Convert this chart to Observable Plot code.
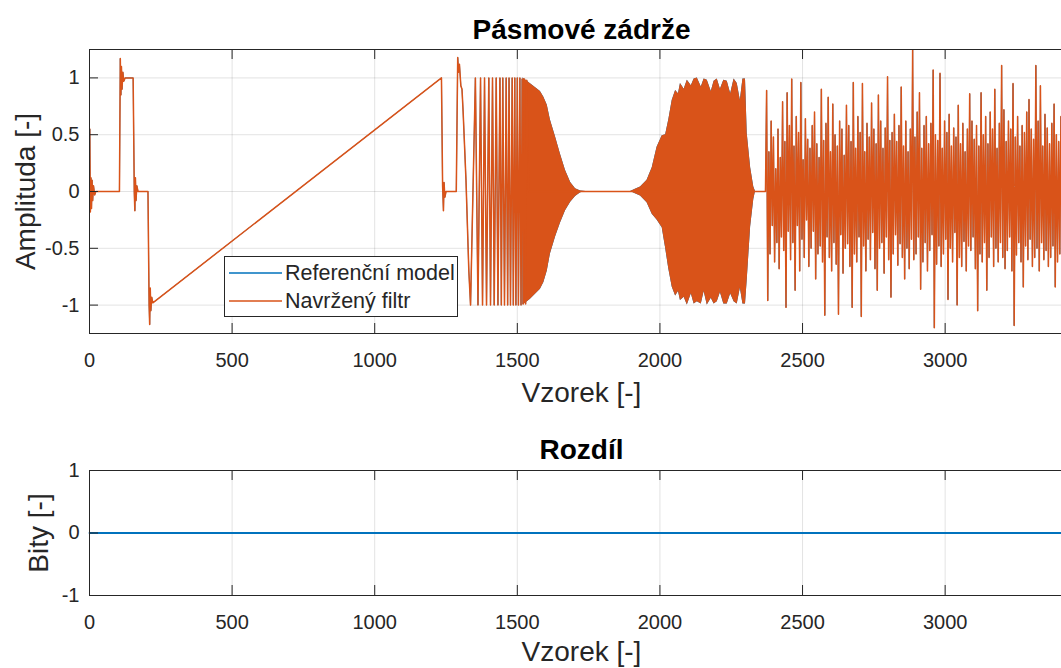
<!DOCTYPE html>
<html><head><meta charset="utf-8">
<script src="https://cdn.jsdelivr.net/npm/d3@7"></script>
<script src="https://cdn.jsdelivr.net/npm/@observablehq/plot@0.6"></script>
<style>
html,body{margin:0;padding:0;overflow:hidden;background:#fff;}
#wrap{position:relative;width:1061px;height:668px;overflow:hidden;font-family:"Liberation Sans",Arial,sans-serif;}
#top,#bot{position:absolute;left:0;width:1074px;}
#top svg,#bot svg{max-width:none !important;}
#top{top:0}
#bot{top:420px}
#legend{position:absolute;left:224px;top:256px;width:234px;height:61px;box-sizing:border-box;border:1px solid #262626;background:#fff;font-size:21.5px;color:#262626;}
.row{position:absolute;left:4px;height:24px;display:flex;align-items:center;white-space:nowrap;}
.row svg{margin-right:3px}
</style></head>
<body><div id="wrap"><div id="top"></div><div id="bot"></div>
<div id="legend">
<div class="row" style="top:4px"><svg width="53" height="4"><line x1="0" x2="53" y1="2" y2="2" stroke="#0072BD" stroke-width="1.3"/></svg><span>Referenční model</span></div>
<div class="row" style="top:32px"><svg width="53" height="4"><line x1="0" x2="53" y1="2" y2="2" stroke="#D95319" stroke-width="1.3"/></svg><span>Navržený filtr</span></div>
</div></div>
<script>
// ---------- data ----------
const xTicks = [0, 500, 1000, 1500, 2000, 2500, 3000];
const yTicksTop = [-1, -0.5, 0, 0.5, 1];
const yTicksBot = [-1, 0, 1];
const seriesNames = ["Referenční model", "Navržený filtr"];

// deterministic part (steps, ramp, transients)
const sigX = [0, 1, 3, 5, 7, 9, 11, 14, 18, 22, 105, 108, 110, 112, 114, 117, 120, 125, 153, 157, 159, 161, 163, 166, 170, 205, 209, 211, 213, 215, 218, 222, 1234, 1238, 1241, 1243, 1246, 1250, 1286, 1291, 1294, 1297, 1302, 1306, 1310, 1320, 1330];
const sigY = [0, 0.55, -0.18, 0.12, -0.15, 0.10, -0.08, 0.05, -0.03, 0, 0, 1.17, 0.85, 1.10, 0.90, 1.05, 0.97, 1.0, 1.0, 0, -0.17, 0.12, -0.08, 0.05, 0, 0, -1.0, -1.17, -0.85, -1.05, -0.93, -0.98, 1.0, 0.05, -0.17, 0.08, -0.05, 0, 0, 1.18, 1.05, 1.12, 0.93, 0.90, 0.70, 0.10, -0.70];

// sparse chirp peaks
const chirpX = [1336, 1353, 1362, 1371, 1378, 1385, 1392, 1400, 1406, 1413, 1419, 1426, 1432, 1439, 1444, 1449, 1455, 1461, 1466, 1471, 1476, 1482, 1486, 1491, 1495, 1500, 1504, 1509, 1513, 1517, 1521, 1525, 1529, 1533];
const chirpY = [-1.0, 1.0, -1.0, 1.0, -1.0, 1.0, -1.0, 1.0, -1.0, 1.0, -1.0, 1.0, -1.0, 1.0, -1.0, 1.0, -1.0, 1.0, -1.0, 1.0, -1.0, 1.0, -1.0, 1.0, -1.0, 1.0, -1.0, 1.0, -1.0, 0.99, -0.99, 0.99, -0.99, 0.98];

// zero stretches between bursts
const gapX = [1540, 1745, 1895, 2337, 2370];
const gapY = [0, 0, 0, 0, 0];

// dense chirp envelopes
const band1X = [1520, 1545, 1581, 1593, 1605, 1616, 1634, 1651, 1669, 1687, 1704, 1722, 1740];
const band1Hi = [1.0, 0.95, 0.88, 0.83, 0.76, 0.63, 0.48, 0.33, 0.185, 0.08, 0.024, 0.005, 0];
const band1Lo = [-1.0, -0.95, -0.86, -0.80, -0.70, -0.55, -0.40, -0.28, -0.17, -0.094, -0.044, -0.01, 0];
const band2X = [1897, 1914, 1932, 1955, 1973, 1990, 2008, 2020, 2031, 2043, 2055, 2065, 2072, 2085, 2096, 2110, 2120, 2131, 2145, 2155, 2166, 2180, 2190, 2201, 2212, 2224, 2236, 2248, 2260, 2271, 2282, 2291, 2300, 2306, 2318, 2329, 2335];
const band2Hi = [0, 0.02, 0.04, 0.10, 0.21, 0.39, 0.49, 0.50, 0.63, 0.80, 0.89, 0.86, 0.95, 0.90, 0.98, 0.93, 0.99, 1.0, 0.92, 0.99, 0.98, 0.88, 0.97, 0.99, 0.90, 0.98, 0.97, 0.86, 0.99, 0.95, 0.80, 0.99, 0.99, 0.51, 0.21, 0.04, 0];
const band2Lo = [0, -0.02, -0.04, -0.10, -0.20, -0.25, -0.32, -0.50, -0.68, -0.84, -0.92, -0.88, -0.96, -0.93, -1.0, -0.90, -0.99, -0.97, -0.99, -0.88, -1.0, -0.94, -0.99, -0.97, -0.89, -0.99, -0.99, -0.90, -0.97, -0.99, -0.85, -0.99, -0.99, -0.78, -0.31, -0.07, 0];

// noise section: samples from 2374, every 4th sample
const noiseStart = 2374, noiseStep = 4;
const noiseY = [
0.89, -0.96, 0.35, -0.55, 0.62, -0.30, 0.48, -0.62, 0.20, -0.45,
0.55, -0.68, 0.30, -0.40, 0.79, -0.52, 0.44, -1.02, 0.87, -0.35,
0.58, -0.60, 0.99, -0.45, 0.40, -0.87, 0.66, -0.30, 0.52, -0.70,
0.96, -0.42, 0.28, -0.58, 0.64, -0.25, 0.46, -0.66, 0.38, -0.50,
0.58, -0.35, 0.70, -0.77, 0.42, -0.55, 0.30, -0.48, 0.90, -0.62,
0.45, -1.09, 0.60, -0.40, 0.83, -0.58, 0.35, -0.70, 0.77, -0.45,
0.50, -0.64, 0.40, -1.08, 0.62, -0.38, 0.55, -0.72, 0.32, -0.50,
0.76, -0.46, 0.58, -0.66, 0.44, -1.02, 0.96, -0.55, 0.38, -0.62,
0.66, -0.40, 0.52, -1.10, 0.95, -0.48, 0.35, -0.70, 0.60, -0.42,
0.48, -0.60, 0.78, -0.36, 0.55, -0.68, 0.42, -0.87, 0.85, -0.50,
0.62, -0.45, 0.38, -0.72, 0.56, -0.40, 1.01, -0.60, 0.45, -0.93,
0.52, -0.55, 0.68, -0.38, 0.44, -0.65, 0.58, -0.46, 0.92, -0.58,
0.40, -0.77, 0.62, -0.50, 0.35, -0.68, 0.55, -0.42, 1.25, -0.60,
0.48, -0.55, 0.70, -0.40, 0.87, -0.86, 0.38, -0.62, 0.58, -0.45,
0.66, -0.70, 0.42, -0.52, 0.60, -0.38, 1.07, -1.20, 0.50, -0.64,
0.45, -0.48, 1.04, -0.66, 0.38, -0.55, 0.62, -0.42, 0.52, -0.95,
0.68, -0.50, 0.40, -0.62, 0.56, -0.36, 0.48, -1.00, 0.76, -0.58,
0.42, -0.66, 0.60, -0.44, 0.35, -0.70, 0.55, -0.48, 0.86, -0.52,
0.62, -0.40, 0.46, -0.68, 0.58, -1.05, 0.40, -0.55, 0.87, -0.62,
0.50, -0.45, 0.66, -0.87, 0.42, -0.58, 0.70, -0.40, 0.55, -0.66,
0.90, -0.50, 0.38, -0.62, 0.60, -0.45, 1.11, -0.58, 0.72, -0.68,
0.44, -0.52, 0.62, -0.40, 0.55, -0.70, 0.95, -1.18, 0.48, -0.56,
0.66, -0.45, 0.40, -0.62, 0.58, -0.84, 0.52, -0.48, 0.70, -0.60,
0.81, -0.42, 0.55, -0.66, 0.46, -0.58, 1.11, -0.50, 0.62, -0.70,
0.93, -0.45, 0.40, -0.60, 0.68, -0.52, 0.56, -0.66, 0.42, -0.58,
0.60, -0.48, 0.77, -0.84, 0.50, -0.62, 0.44, -0.55, 0.66, -0.46,
0.58, -0.68, 0.40, -0.52, 0.62, -0.44, 0.55, -0.60, 0.48, -0.56
];

// difference (model - filter)
const diffX = [0, 3450];
const diffY = [0, 0];

const xDomain = [0, 3450];
const yDomainTop = [-1.25, 1.25];
const yDomainBot = [-1, 1];

// ---------- build tables ----------
const lineData = [];
sigX.forEach((x, i) => lineData.push({x, y: sigY[i]}));
chirpX.forEach((x, i) => lineData.push({x, y: chirpY[i]}));
gapX.forEach((x, i) => lineData.push({x, y: gapY[i]}));
noiseY.forEach((y, i) => lineData.push({x: noiseStart + i * noiseStep, y}));
const band1 = band1X.map((x, i) => ({x, hi: band1Hi[i], lo: band1Lo[i]}));
const band2 = band2X.map((x, i) => ({x, hi: band2Hi[i], lo: band2Lo[i]}));
const diff = diffX.map((x, i) => ({x, y: diffY[i]}));

const BLUE = "#0072BD", ORANGE = "#D95319", AX = "#262626";
const FONT = "Liberation Sans, Arial, sans-serif";
const W = 1074, ML = 89, MR = 1;
const plotW = W - ML - MR;

function gridMarks(yTicks) {
  return [
    Plot.gridX(xTicks, {stroke: AX, strokeOpacity: 0.13}),
    Plot.gridY(yTicks, {stroke: AX, strokeOpacity: 0.13}),
  ];
}
// inward ticks (MATLAB style), lengths converted from pixels to data units
function axisMarks(yTicks, yDomain, frameH) {
  const ySpan = yDomain[1] - yDomain[0];
  const dy = 10 * ySpan / frameH;
  const dx = 9 * (xDomain[1] - xDomain[0]) / plotW;
  return [
    Plot.ruleX(xTicks, {x: d => d, y1: yDomain[0], y2: yDomain[0] + dy, stroke: AX}),
    Plot.ruleX(xTicks, {x: d => d, y1: yDomain[1], y2: yDomain[1] - dy, stroke: AX}),
    Plot.ruleY(yTicks, {y: d => d, x1: xDomain[0], x2: xDomain[0] + dx, stroke: AX}),
    Plot.frame({stroke: AX}),
    Plot.axisX(xTicks, {tickSize: 0, tickPadding: 19, fontSize: 20, fill: AX, tickFormat: d => String(d), label: null}),
    Plot.axisY(yTicks, {tickSize: 0, tickPadding: 10, fontSize: 20, fill: AX, tickFormat: d => String(d), label: null}),
  ];
}
const txt = {text: d => d, lineAnchor: "middle", textAnchor: "middle"};

// ---------- top chart ----------
const topH = 420, topMT = 49, topMB = 87;
const topFrameH = topH - topMT - topMB;
const topPlot = Plot.plot({
  width: W, height: topH,
  marginLeft: ML, marginRight: MR, marginTop: topMT, marginBottom: topMB,
  style: {fontFamily: FONT, background: "transparent", overflow: "visible", maxWidth: "none"},
  x: {domain: xDomain, axis: null},
  y: {domain: yDomainTop, axis: null},
  marks: [
    ...gridMarks(yTicksTop),
    // reference model (beneath the filter output, identical values)
    Plot.areaY(band1, {x: "x", y1: "lo", y2: "hi", fill: BLUE, clip: true}),
    Plot.areaY(band2, {x: "x", y1: "lo", y2: "hi", fill: BLUE, clip: true}),
    Plot.line(lineData, {x: "x", y: "y", stroke: BLUE, strokeWidth: 0.8, clip: true}),
    // designed filter
    Plot.areaY(band1, {x: "x", y1: "lo", y2: "hi", fill: ORANGE, clip: true}),
    Plot.areaY(band2, {x: "x", y1: "lo", y2: "hi", fill: ORANGE, clip: true}),
    Plot.line(lineData, {x: "x", y: "y", stroke: ORANGE, strokeWidth: 1.5, clip: true}),
    ...axisMarks(yTicksTop, yDomainTop, topFrameH),
    Plot.text(["Pásmové zádrže"], {...txt, frameAnchor: "top", dy: -19, fontSize: 28, fontWeight: "bold", fill: "#000"}),
    Plot.text(["Vzorek [-]"], {...txt, frameAnchor: "bottom", dy: 60, fontSize: 28, fill: AX}),
    Plot.text(["Amplituda [-]"], {...txt, frameAnchor: "left", dx: -63, rotate: -90, fontSize: 28, fill: AX}),
  ]
});
document.getElementById("top").appendChild(topPlot);

// ---------- bottom chart ----------
const botH = 248, botMT = 50, botMB = 73;
const botFrameH = botH - botMT - botMB;
const botPlot = Plot.plot({
  width: W, height: botH,
  marginLeft: ML, marginRight: MR, marginTop: botMT, marginBottom: botMB,
  style: {fontFamily: FONT, background: "transparent", overflow: "visible", maxWidth: "none"},
  x: {domain: xDomain, axis: null},
  y: {domain: yDomainBot, axis: null},
  marks: [
    ...gridMarks(yTicksBot),
    Plot.line(diff, {x: "x", y: "y", stroke: BLUE, strokeWidth: 1.8}),
    ...axisMarks(yTicksBot, yDomainBot, botFrameH),
    Plot.text(["Rozdíl"], {...txt, frameAnchor: "top", dy: -20, fontSize: 28, fontWeight: "bold", fill: "#000"}),
    Plot.text(["Vzorek [-]"], {...txt, frameAnchor: "bottom", dy: 57, fontSize: 28, fill: AX}),
    Plot.text(["Bity [-]"], {...txt, frameAnchor: "left", dx: -50, rotate: -90, fontSize: 28, fill: AX}),
  ]
});
document.getElementById("bot").appendChild(botPlot);
</script>
</body></html>
